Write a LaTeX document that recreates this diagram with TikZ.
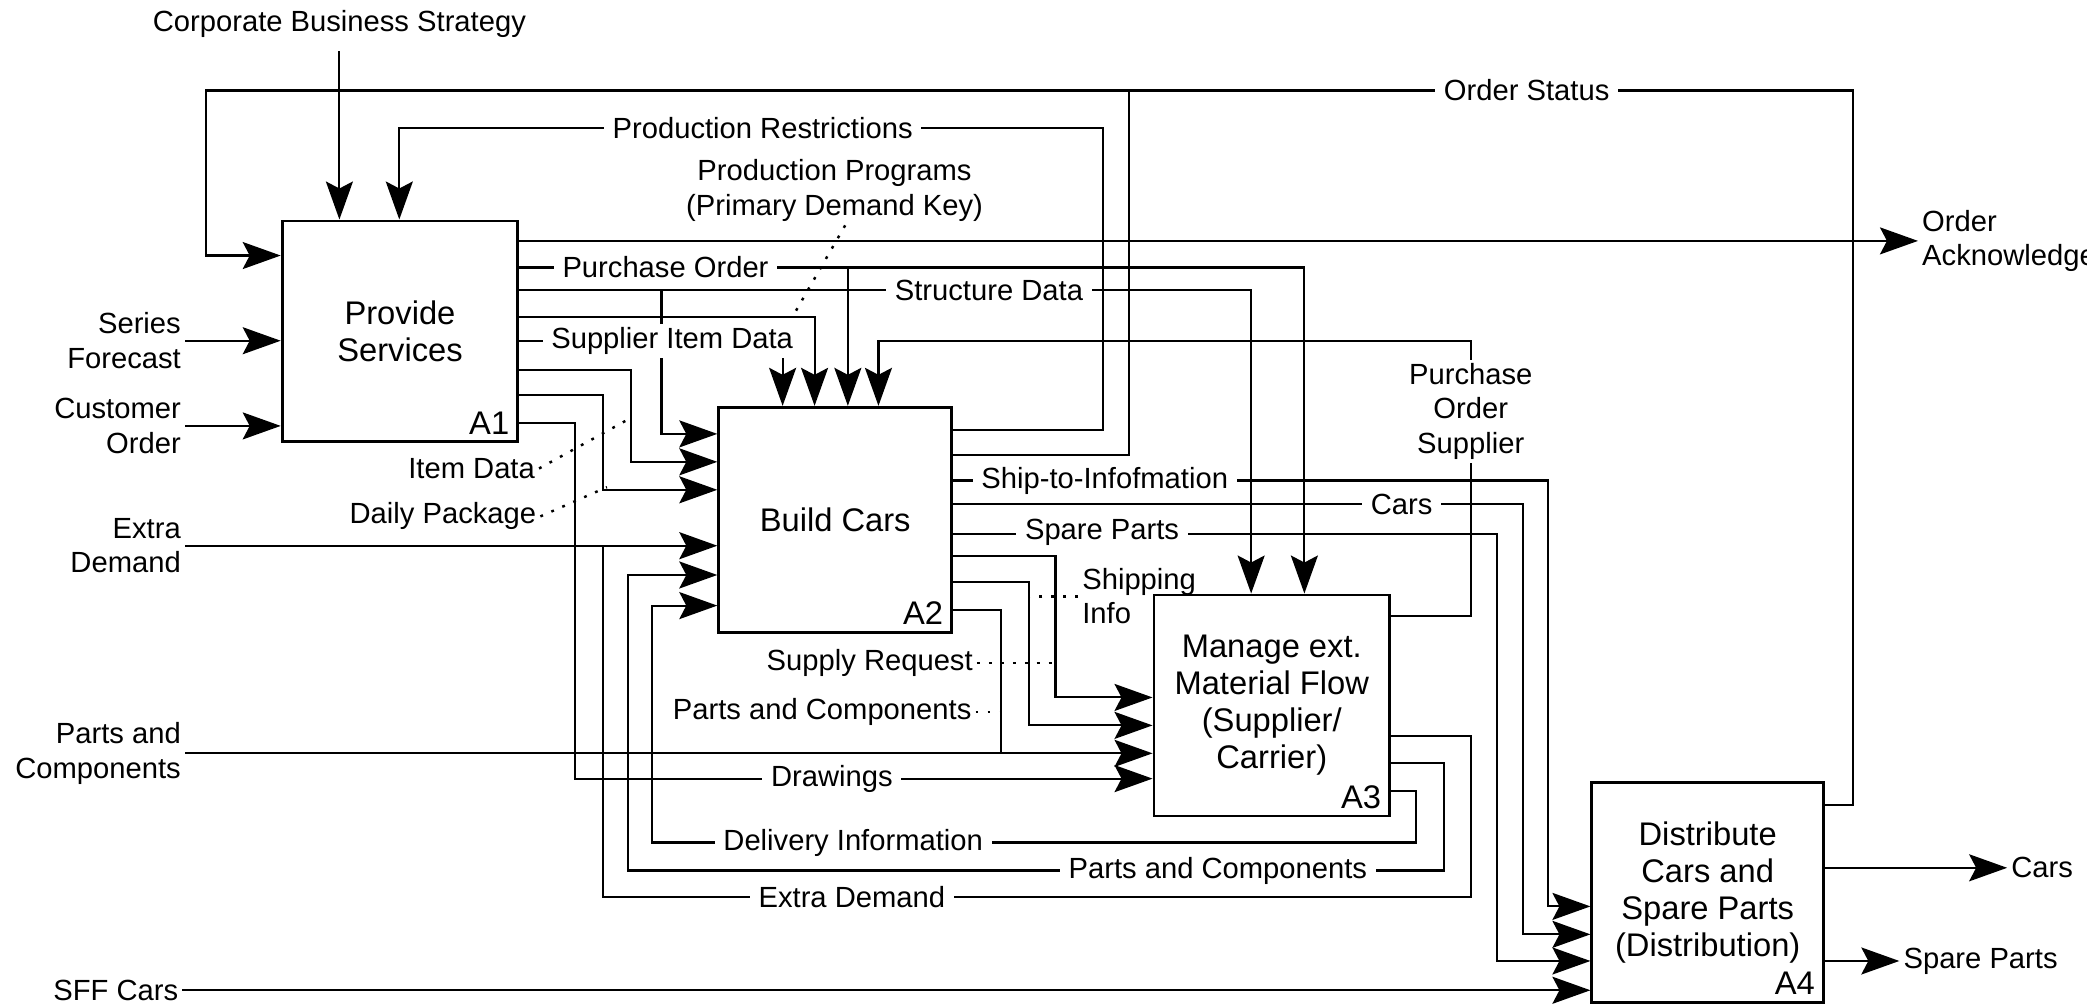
\documentclass[tikz,border=0pt]{standalone}
\usepackage{fontspec}
\setmainfont{Liberation Sans}
\usetikzlibrary{arrows.meta}
\newcommand\lblfont{\fontsize{8.3}{9.8}\selectfont}
\newcommand\actfont{\fontsize{9.3}{10.5}\selectfont}
\begin{document}
\begin{tikzpicture}[x=0.01331cm, y=-0.01331cm,
  act/.style={draw, line width=0.8pt, inner sep=0pt, align=center, font=\actfont},
  flow/.style={line width=0.6pt, -{Stealth[length=0.38cm,width=0.27cm,inset=0.07cm]}},
  pipe/.style={line width=0.6pt},
  lbl/.style={font=\lblfont, fill=white, inner xsep=2.5pt, inner ysep=1pt},
  txt/.style={font=\lblfont, inner sep=1pt},
  leader/.style={line width=0.7pt, dash pattern=on 0.8pt off 2.6pt},
  num/.style={font=\actfont, inner sep=0pt}]
\useasboundingbox (0,0) rectangle (1568,755);

% activity boxes
\node[act, minimum width=2.356cm, minimum height=2.209cm] (a1) at (300.5,249) {Provide\\Services};
\node[act, minimum width=2.329cm, minimum height=2.249cm] (a2) at (627.5,390.5) {Build Cars};
\node[act, minimum width=2.356cm, minimum height=2.209cm] (a3) at (955.5,530) {Manage ext.\\Material Flow\\(Supplier/\\Carrier)};
\node[act, minimum width=2.316cm, minimum height=2.196cm] (a4) at (1283,670.5) {Distribute\\Cars and\\Spare Parts\\(Distribution)};
\node[num, anchor=south east] at ([shift={(-7,-6)}]a1.south east) {A1};
\node[num, anchor=south east] at ([shift={(-7,-6)}]a2.south east) {A2};
\node[num, anchor=south east] at ([shift={(-7,-6)}]a3.south east) {A3};
\node[num, anchor=south east] at ([shift={(-7,-6)}]a4.south east) {A4};

% external texts
\node[txt] (cbs) at (255,18) {Corporate Business Strategy};
\node[txt, align=right, anchor=east] (sfc) at (139,256) {Series\\Forecast};
\node[txt, align=right, anchor=east] (cor) at (139,320) {Customer\\Order};
\node[txt, align=right, anchor=east] (edm) at (139,410) {Extra\\Demand};
\node[txt, align=right, anchor=east] (pce) at (139,566) {Parts and\\Components};
\node[txt, anchor=east] (sff) at (137,744) {SFF Cars};
\node[txt, align=left, anchor=west] (oack) at (1441,181) {Order\\Acknowledge};
\node[txt, anchor=west] (ocars) at (1508,652) {Cars};
\node[txt, anchor=west] (osp) at (1427,722) {Spare Parts};
\node[txt, align=center] (pp) at (627,143) {Production Programs\\(Primary Demand Key)};
\node[txt, anchor=east] (idat) at (405,352) {Item Data};
\node[txt, anchor=east] (dpk) at (406,388) {Daily Package};
\node[txt, align=left, anchor=west] (shi) at (810,448) {Shipping\\Info};
\node[txt, anchor=east] (sreq) at (734,498) {Supply Request};
\node[txt, anchor=east] (pci) at (733,535) {Parts and Components};

% inputs from outside
\draw[flow] (cbs.south) ++(0,7) -- (cbs.south |- a1.north);
\draw[flow] (sfc.east) -- (sfc.east -| a1.west);
\draw[flow] (cor.east) -- (cor.east -| a1.west);
\draw[flow] (edm.east) -- (edm.east -| a2.west);
\draw[flow] (pce.east) -- (pce.east -| a3.west);
\draw[flow] (sff.east) -- (sff.east -| a4.west);

% outputs of A1
\draw[flow] (a1.east |- oack.west) -- (oack.west);
\draw[flow] (a1.east |- 0,201) -- (980,201) -- (980,0 |- a3.north);
\draw[flow] (637,201) -- (637,0 |- a2.north);
\draw[flow] (a1.east |- 0,218) -- (940,218) -- (940,0 |- a3.north);
\draw[flow] (497,218) -- (497,326) -- (a2.west |- 0,326);
\draw[flow] (a1.east |- 0,238) -- (612,238) -- (612,0 |- a2.north);
\draw[flow] (a1.east |- 0,256) -- (588,256) -- (588,0 |- a2.north);
\draw[flow] (a1.east |- 0,278) -- (474,278) -- (474,347) -- (a2.west |- 0,347);
\draw[flow] (a1.east |- 0,297) -- (453,297) -- (453,368) -- (a2.west |- 0,368);
\draw[flow] (a1.east |- 0,318) -- (432,318) -- (432,585) -- (a3.west |- 0,585);

% feedback to A1
\draw[flow] (a4.east |- 0,605) -- (1392,605) -- (1392,68) -- (155,68) -- (155,192) -- (a1.west |- 0,192);
\draw[pipe] (a2.east |- 0,342) -- (848,342) -- (848,68);
\draw[flow] (a2.east |- 0,323) -- (829,323) -- (829,96) -- (300,96) -- (300,0 |- a1.north);

% outputs of A2
\draw[flow] (a2.east |- 0,361) -- (1163,361) -- (1163,681) -- (a4.west |- 0,681);
\draw[flow] (a2.east |- 0,379) -- (1144,379) -- (1144,702) -- (a4.west |- 0,702);
\draw[flow] (a2.east |- 0,401) -- (1125,401) -- (1125,722) -- (a4.west |- 0,722);
\draw[flow] (a2.east |- 0,418) -- (793,418) -- (793,524) -- (a3.west |- 0,524);
\draw[flow] (a2.east |- 0,437) -- (773,437) -- (773,545) -- (a3.west |- 0,545);
\draw[pipe] (a2.east |- 0,458) -- (752,458) -- (752,566);

% outputs of A3
\draw[flow] (a3.east |- 0,463) -- (1105,463) -- (1105,256) -- (660,256) -- (660,0 |- a2.north);
\draw[pipe] (a3.east |- 0,553) -- (1105,553) -- (1105,674) -- (453,674) -- (453,410);
\draw[flow] (a3.east |- 0,573) -- (1085,573) -- (1085,654) -- (472,654) -- (472,432) -- (a2.west |- 0,432);
\draw[flow] (a3.east |- 0,594) -- (1064,594) -- (1064,633) -- (490,633) -- (490,455) -- (a2.west |- 0,455);

% outputs of A4
\draw[flow] (a4.east |- ocars.west) -- (ocars.west);
\draw[flow] (a4.east |- osp.west) -- (osp.west);

% dotted leaders
\draw[leader] (pp.south) ++(8,0) -- (596,237);
\draw[leader] (idat.east) -- (474,314);
\draw[leader] (dpk.east) -- (456,366);
\draw[leader] (shi.west) -- (shi.west -| 773,0);
\draw[leader] (sreq.east) -- (sreq.east -| 793,0);
\draw[leader] (pci.east) -- (pci.east -| 752,0);

% labels on the connectors
\node[lbl] at (1147,68) {Order Status};
\node[lbl] at (573,96) {Production Restrictions};
\node[lbl] at (500,201) {Purchase Order};
\node[lbl] at (743,218) {Structure Data};
\node[lbl] at (505,256) {Supplier Item Data};
\node[lbl, align=center] at (1105,309) {Purchase\\Order\\Supplier};
\node[lbl] at (830,361) {Ship-to-Infofmation};
\node[lbl] at (1053,379) {Cars};
\node[lbl] at (828,400) {Spare Parts};
\node[lbl] at (625,585) {Drawings};
\node[lbl] at (641,633) {Delivery Information};
\node[lbl] at (915,654) {Parts and Components};
\node[lbl] at (640,674) {Extra Demand};
\end{tikzpicture}
\end{document}
